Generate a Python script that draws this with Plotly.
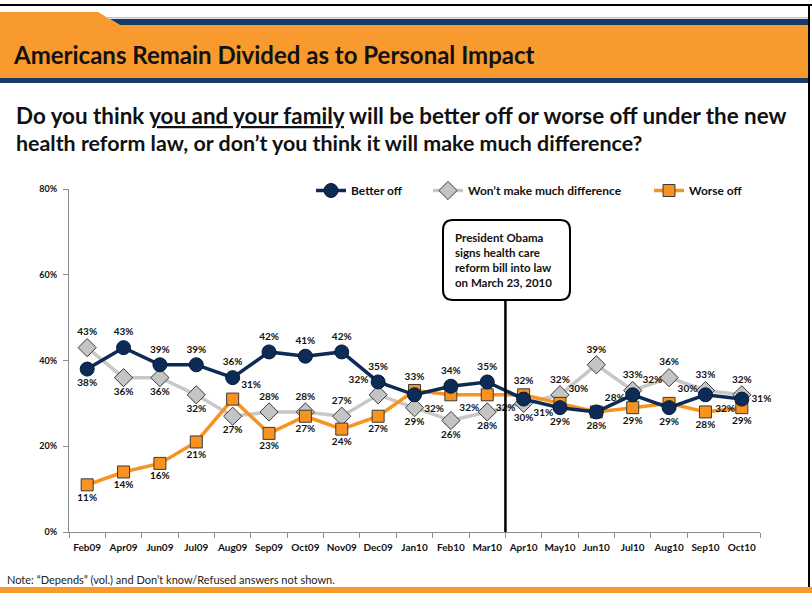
import plotly.graph_objects as go

# Survey waves
months = ["Feb09", "Apr09", "Jun09", "Jul09", "Aug09", "Sep09", "Oct09", "Nov09", "Dec09",
          "Jan10", "Feb10", "Mar10", "Apr10", "May10", "Jun10", "Jul10", "Aug10", "Sep10", "Oct10"]

# Percent of respondents
better_off = [38, 43, 39, 39, 36, 42, 41, 42, 35, 32, 34, 35, 31, 29, 28, 32, 29, 32, 31]
no_difference = [43, 36, 36, 32, 27, 28, 28, 27, 32, 29, 26, 28, 30, 32, 39, 33, 36, 33, 32]
worse_off = [11, 14, 16, 21, 31, 23, 27, 24, 27, 33, 32, 32, 32, 30, 28, 29, 30, 28, 29]

y_ticks = [0, 20, 40, 60, 80]

# Label placement for each point
T, B_, R, L_ = "top center", "bottom center", "middle right", "middle left"
pos_better = [B_, T, T, T, T, T, T, T, T, "bottom right", T, T, "bottom right", B_, B_, "top right", B_, "bottom right", R]
pos_nodiff = [T, B_, B_, B_, B_, T, T, T, "top left", B_, B_, B_, B_, T, T, T, T, T, T]
pos_worse = [B_, B_, B_, B_, "top right", B_, B_, B_, B_, T, "bottom right", "bottom right", T, "top right", "top right", B_, "top right", B_, B_]

NAVY = "#0D2B57"
GRAY = "#C8C8C8"
ORANGE = "#F7931E"
HEADER_ORANGE = "#F89A2E"
HEADER_BLUE = "#173B66"
FONT = "Lato"

# Plot area in pixels
PL, PR, PT, PB = 69, 760, 189, 532
W, H = 812, 593


def fx(x):
    return (x - PL) / (PR - PL)


def fy(y):
    return (PB - y) / (PB - PT)


def pct(vals):
    return [f"{v}%" for v in vals]


label_font = dict(family=FONT, size=10, color="#111111", weight="bold")

fig = go.Figure()

fig.add_trace(go.Scatter(
    x=months, y=no_difference, name="Won\u2019t make much difference", legend="legend2",
    mode="lines+markers+text", text=pct(no_difference), textposition=pos_nodiff, textfont=label_font,
    line=dict(color=GRAY, width=3.5),
    marker=dict(symbol="diamond", size=14, color="#C4C4C4", line=dict(color="#3A3A3A", width=1)),
    cliponaxis=False,
))
fig.add_trace(go.Scatter(
    x=months, y=worse_off, name="Worse off", legend="legend3",
    mode="lines+markers+text", text=pct(worse_off), textposition=pos_worse, textfont=label_font,
    line=dict(color=ORANGE, width=3.5),
    marker=dict(symbol="square", size=12, color=ORANGE, line=dict(color="#3A3A3A", width=1)),
    cliponaxis=False,
))
fig.add_trace(go.Scatter(
    x=months, y=better_off, name="Better off", legend="legend",
    mode="lines+markers+text", text=pct(better_off), textposition=pos_better, textfont=label_font,
    line=dict(color=NAVY, width=3.5),
    marker=dict(symbol="circle", size=14, color=NAVY, line=dict(color="#061a36", width=1)),
    cliponaxis=False,
))

shapes = []
# top rule and right border
shapes.append(dict(type="rect", xref="paper", yref="paper", x0=fx(0), x1=fx(812), y0=fy(6), y1=fy(4),
                   fillcolor="black", line=dict(width=0), layer="below"))
shapes.append(dict(type="rect", xref="paper", yref="paper", x0=fx(808), x1=fx(810), y0=fy(587), y1=fy(4),
                   fillcolor="black", line=dict(width=0), layer="below"))
# header tab, blue stripe and orange band
tab = f"M {fx(0)},{fy(12)} L {fx(98)},{fy(12)} L {fx(120)},{fy(25)} L {fx(0)},{fy(25)} Z"
shapes.append(dict(type="path", xref="paper", yref="paper", path=tab, fillcolor=HEADER_ORANGE,
                   line=dict(width=0), layer="below"))
stripe = f"M {fx(110)},{fy(19)} L {fx(808)},{fy(19)} L {fx(808)},{fy(25)} L {fx(120)},{fy(25)} Z"
shapes.append(dict(type="path", xref="paper", yref="paper", path=stripe, fillcolor=HEADER_BLUE,
                   line=dict(width=0), layer="below"))
shapes.append(dict(type="rect", xref="paper", yref="paper", x0=fx(106), x1=fx(808), y0=fy(18.5), y1=fy(17),
                   fillcolor="#BFC5CC", line=dict(width=0), layer="below"))
shapes.append(dict(type="rect", xref="paper", yref="paper", x0=fx(0), x1=fx(808), y0=fy(78), y1=fy(25),
                   fillcolor=HEADER_ORANGE, line=dict(width=0), layer="below"))
shapes.append(dict(type="rect", xref="paper", yref="paper", x0=fx(0), x1=fx(808), y0=fy(83), y1=fy(78),
                   fillcolor=HEADER_BLUE, line=dict(width=0), layer="below"))
# footer bar
shapes.append(dict(type="rect", xref="paper", yref="paper", x0=fx(0), x1=fx(812), y0=fy(593), y1=fy(587),
                   fillcolor=HEADER_ORANGE, line=dict(width=0), layer="below"))

# callout box with rounded corners
bx0, bx1, by0, by1, r = 443, 570, 220, 300, 10
box = (f"M {fx(bx0 + r)},{fy(by0)} L {fx(bx1 - r)},{fy(by0)} Q {fx(bx1)},{fy(by0)} {fx(bx1)},{fy(by0 + r)} "
       f"L {fx(bx1)},{fy(by1 - r)} Q {fx(bx1)},{fy(by1)} {fx(bx1 - r)},{fy(by1)} "
       f"L {fx(bx0 + r)},{fy(by1)} Q {fx(bx0)},{fy(by1)} {fx(bx0)},{fy(by1 - r)} "
       f"L {fx(bx0)},{fy(by0 + r)} Q {fx(bx0)},{fy(by0)} {fx(bx0 + r)},{fy(by0)} Z")
shapes.append(dict(type="path", xref="paper", yref="paper", path=box, fillcolor="white",
                   line=dict(color="black", width=2)))
# signing date marker between Mar10 and Apr10
mar_idx = months.index("Mar10")
shapes.append(dict(type="line", xref="x", yref="paper", x0=mar_idx + 0.5, x1=mar_idx + 0.5,
                   y0=0, y1=fy(by1), line=dict(color="black", width=2.5)))

annotations = [
    dict(text="<b>Americans Remain Divided as to Personal Impact</b>", xref="paper", yref="paper",
         x=fx(11), y=fy(55), xanchor="left", yanchor="middle", showarrow=False,
         font=dict(family=FONT, size=24, color="#111111")),
    dict(text="<b>Do you think <u>you and your family</u> will be better off or worse off under the new</b>",
         xref="paper", yref="paper", x=fx(14), y=fy(116), xanchor="left", yanchor="middle", showarrow=False,
         font=dict(family=FONT, size=22.4, color="#111111")),
    dict(text="<b>health reform law, or don\u2019t you think it will make much difference?</b>",
         xref="paper", yref="paper", x=fx(14), y=fy(143), xanchor="left", yanchor="middle", showarrow=False,
         font=dict(family=FONT, size=21.4, color="#111111")),
    dict(text="<b>President Obama<br>signs health care<br>reform bill into law<br>on March 23, 2010</b>",
         xref="paper", yref="paper", x=fx(453), y=fy(260), xanchor="left", yanchor="middle", showarrow=False,
         align="left", font=dict(family=FONT, size=11.5, color="#111111")),
    dict(text="Note: \u201cDepends\u201d (vol.) and Don\u2019t know/Refused answers not shown.",
         xref="paper", yref="paper", x=fx(5), y=fy(579), xanchor="left", yanchor="middle", showarrow=False,
         font=dict(family=FONT, size=11, color="#222222")),
]

legend_common = dict(orientation="h", xanchor="left", yanchor="top",
                     font=dict(family=FONT, size=12, color="#111111", weight="bold"),
                     bgcolor="rgba(0,0,0,0)", itemwidth=30)

fig.update_layout(
    width=W, height=H, autosize=False,
    margin=dict(l=PL, r=W - PR, t=PT, b=H - PB, pad=0),
    paper_bgcolor="white", plot_bgcolor="white",
    font=dict(family=FONT, color="#111111"),
    showlegend=True,
    legend=dict(x=fx(311), y=fy(176), **legend_common),
    legend2=dict(x=fx(428), y=fy(176), **legend_common),
    legend3=dict(x=fx(649), y=fy(176), **legend_common),
    shapes=shapes,
    annotations=annotations,
)

fig.update_xaxes(
    type="category", range=[-0.5, len(months) - 0.5], showgrid=False, zeroline=False,
    showline=True, linecolor="#8C8C8C", linewidth=1, ticks="outside", ticklen=5, tickcolor="#8C8C8C",
    tickson="boundaries", tickangle=0, ticklabelstandoff=6,
    tickfont=dict(family=FONT, size=10, color="#111111", weight="bold"),
)
fig.update_yaxes(
    range=[0, 80], tickvals=y_ticks, ticktext=[f"{v}%" for v in y_ticks], showgrid=False, zeroline=False,
    showline=True, linecolor="#8C8C8C", linewidth=1, ticks="outside", ticklen=5, tickcolor="#8C8C8C",
    tickfont=dict(family=FONT, size=9, color="#111111", weight="bold"), ticklabelstandoff=4,
)

fig.write_html("out.html")
